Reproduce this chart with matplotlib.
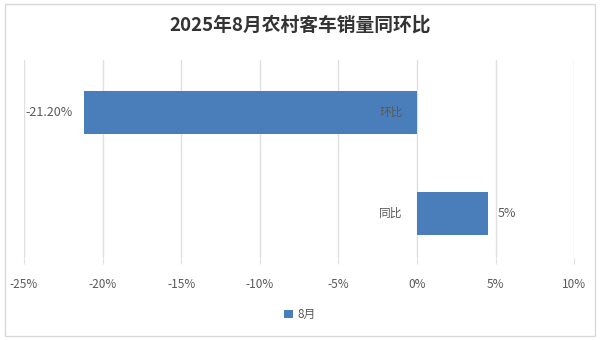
import matplotlib.pyplot as plt
from matplotlib.patches import Rectangle
from matplotlib.ticker import FuncFormatter

plt.rcParams['font.family'] = ['Noto Sans CJK SC', 'DejaVu Sans']

categories = ['同比', '环比']
values = [4.5, -21.2]
value_labels = ['5%', '-21.20%']
xticks = [-25, -20, -15, -10, -5, 0, 5, 10]
series_name = '8月'
title = '2025年8月农村客车销量同环比'

bar_color = '#4A7EBB'
grid_color = '#E0E0E0'
text_color = '#595959'

fig = plt.figure(figsize=(6, 3.4), dpi=100)
fig.patches.append(Rectangle((0.008, 0.012), 0.984, 0.976, transform=fig.transFigure,
                             fill=False, edgecolor='#D9D9D9', linewidth=1))
ax = fig.add_axes([0.04, 0.241, 0.917, 0.583])

ypos = list(range(len(categories)))
bars = ax.barh(ypos, values, height=0.42, color=bar_color, label=series_name, zorder=3)

ax.set_xlim(-25, 10)
ax.set_ylim(-0.44, 1.52)
ax.set_xticks(xticks)
ax.xaxis.set_major_formatter(FuncFormatter(lambda v, p: '%d%%' % v))
ax.grid(axis='x', color=grid_color, linewidth=1, zorder=0)
ax.tick_params(axis='x', length=4, color=grid_color, labelcolor=text_color, labelsize=8.5, pad=10)
ax.set_yticks([])
for s in ax.spines.values():
    s.set_visible(False)

# category labels next to the 0 axis
for y, name in zip(ypos, categories):
    ax.text(-0.9, y, name, ha='right', va='center', fontsize=8.5, color=text_color, zorder=4)

# data labels
for y, v, lab in zip(ypos, values, value_labels):
    if v < 0:
        ax.text(v - 0.7, y, lab, ha='right', va='center', fontsize=9, color=text_color)
    else:
        ax.text(v + 0.6, y, lab, ha='left', va='center', fontsize=9, color=text_color)

fig.text(0.5, 0.925, title, ha='center', va='center', fontsize=13.5, fontweight='bold', color='#333333')

fig.legend(loc='center', bbox_to_anchor=(0.5, 0.075), frameon=False, fontsize=8.5,
           handlelength=0.7, handleheight=0.7, handletextpad=0.4, labelcolor=text_color)

fig.savefig('out.png', dpi=100)
